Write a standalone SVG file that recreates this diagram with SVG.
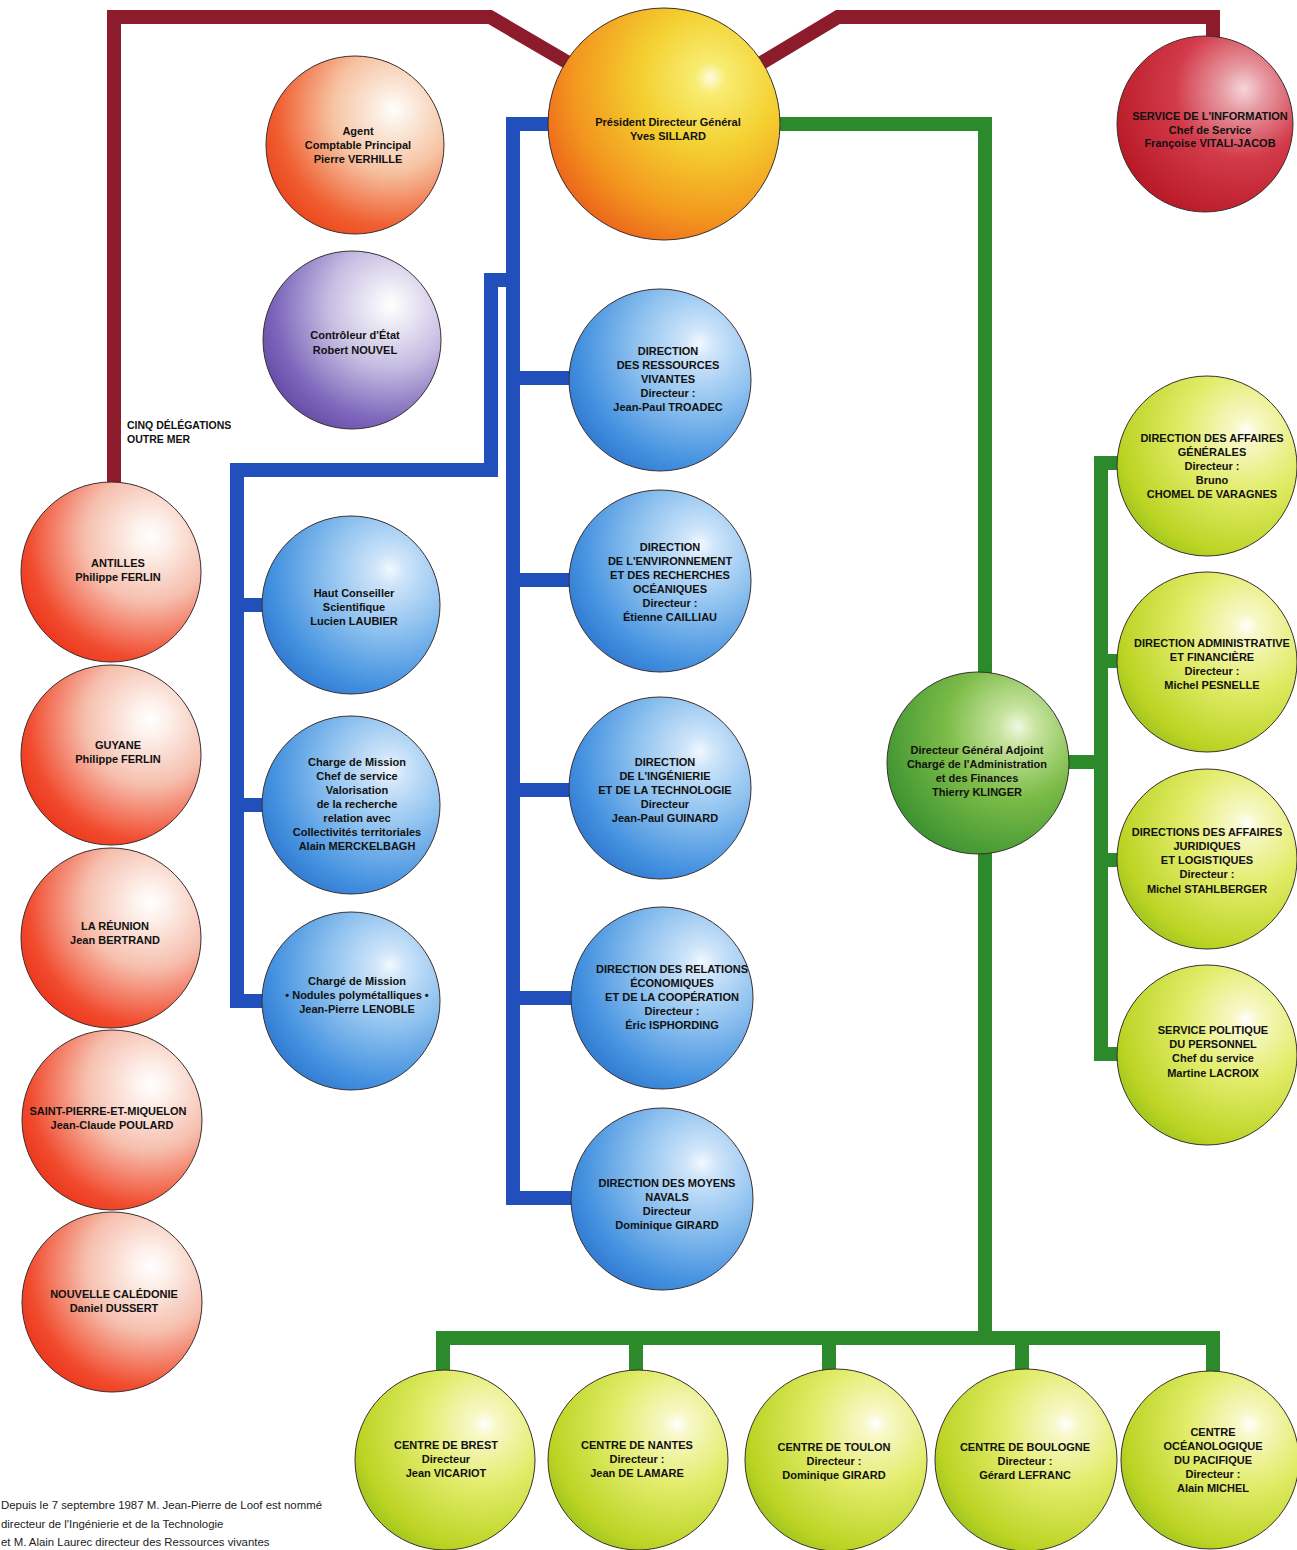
<svg xmlns="http://www.w3.org/2000/svg" width="1297" height="1550" viewBox="0 0 1297 1550">
<defs>
<radialGradient id="gPres" cx="0.7" cy="0.32" r="0.85" fx="0.7" fy="0.3">
<stop offset="0" stop-color="#fffbe0"/><stop offset="0.08" stop-color="#f8ec70"/><stop offset="0.35" stop-color="#f4d030"/><stop offset="0.7" stop-color="#f3961e"/><stop offset="1" stop-color="#e9501a"/>
</radialGradient>
<radialGradient id="gOrange" cx="0.7" cy="0.32" r="0.85" fx="0.72" fy="0.3">
<stop offset="0" stop-color="#ffffff"/><stop offset="0.1" stop-color="#fcefe4"/><stop offset="0.4" stop-color="#f6c3a2"/><stop offset="0.75" stop-color="#f06032"/><stop offset="1" stop-color="#e83a12"/>
</radialGradient>
<radialGradient id="gPurple" cx="0.7" cy="0.32" r="0.85" fx="0.72" fy="0.3">
<stop offset="0" stop-color="#ffffff"/><stop offset="0.1" stop-color="#f2f0f8"/><stop offset="0.4" stop-color="#c6bee2"/><stop offset="0.75" stop-color="#7d66bb"/><stop offset="1" stop-color="#5a3e9c"/>
</radialGradient>
<radialGradient id="gDark" cx="0.7" cy="0.32" r="0.85" fx="0.72" fy="0.3">
<stop offset="0" stop-color="#f6d6da"/><stop offset="0.15" stop-color="#e69aa2"/><stop offset="0.45" stop-color="#d33b4a"/><stop offset="1" stop-color="#b3121f"/>
</radialGradient>
<radialGradient id="gRed" cx="0.7" cy="0.32" r="0.85" fx="0.72" fy="0.3">
<stop offset="0" stop-color="#ffffff"/><stop offset="0.12" stop-color="#fdf0ea"/><stop offset="0.42" stop-color="#f6bfae"/><stop offset="0.78" stop-color="#f14b2e"/><stop offset="1" stop-color="#e92a12"/>
</radialGradient>
<radialGradient id="gBlue" cx="0.7" cy="0.32" r="0.85" fx="0.72" fy="0.3">
<stop offset="0" stop-color="#f2f8ff"/><stop offset="0.1" stop-color="#cfe5fa"/><stop offset="0.4" stop-color="#8fc2ef"/><stop offset="0.75" stop-color="#4592e0"/><stop offset="1" stop-color="#266ec9"/>
</radialGradient>
<radialGradient id="gGreen" cx="0.7" cy="0.32" r="0.85" fx="0.72" fy="0.3">
<stop offset="0" stop-color="#f0f8e0"/><stop offset="0.12" stop-color="#c8e4a0"/><stop offset="0.45" stop-color="#7cbc48"/><stop offset="1" stop-color="#2f8a2c"/>
</radialGradient>
<radialGradient id="gLime" cx="0.7" cy="0.32" r="0.85" fx="0.72" fy="0.3">
<stop offset="0" stop-color="#ffffff"/><stop offset="0.08" stop-color="#f8f8c8"/><stop offset="0.4" stop-color="#e2ec6a"/><stop offset="0.8" stop-color="#bcd424"/><stop offset="1" stop-color="#8cba1c"/>
</radialGradient>
<style>
.n circle{stroke:#3a2e2e;stroke-width:1}
.n text{font-family:"Liberation Sans",Arial,sans-serif;font-weight:bold;font-size:11px;text-anchor:middle;fill:#111}
.c path{fill:none;stroke-width:14;stroke-linejoin:miter}
.red{stroke:#8c1c2c}
.blue{stroke:#2150bd}
.green{stroke:#2c8a2c}
.lbl{font-family:"Liberation Sans",Arial,sans-serif;font-weight:bold;font-size:10.5px;fill:#111}
.note{font-family:"Liberation Sans",Arial,sans-serif;font-size:11.4px;fill:#222}
</style>
</defs>
<rect width="1297" height="1550" fill="#ffffff"/>

<g id="connectors" class="c">
<path class="red" d="M114 485 L114 17 L490 17 L572 65"/>
<path class="red" d="M758 65 L838 17 L1213 17 L1213 42"/>
<path class="blue" d="M552 124 L513 124 L513 1198 L578 1198"/>
<path class="blue" d="M513 378 H578 M513 580 H578 M513 790 H578 M513 998 H578"/>
<path class="blue" d="M513 280 L491 280 L491 470 L237 470 L237 1001 L268 1001"/>
<path class="blue" d="M237 605 H268 M237 805 H268"/>
<path class="green" d="M776 124 L985 124 L985 680"/>
<path class="green" d="M985 845 L985 1338"/>
<path class="green" d="M443 1372 L443 1338 L1213 1338 L1213 1372"/>
<path class="green" d="M636 1338 V1372 M829 1338 V1372 M1022 1338 V1372"/>
<path class="green" d="M1062 762 L1101 762"/>
<path class="green" d="M1124 463 L1101 463 L1101 1054 L1124 1054"/>
<path class="green" d="M1101 661 H1124 M1101 860 H1124"/>
</g>

<text class="lbl" x="127" y="429">CINQ DÉLÉGATIONS</text>
<text class="lbl" x="127" y="443">OUTRE MER</text>

<g id="president" class="n">
<circle cx="664" cy="124" r="116" fill="url(#gPres)"/>
<text x="668" y="126">Président Directeur Général</text>
<text x="668" y="140">Yves SILLARD</text>
</g>

<g id="agent" class="n">
<circle cx="355" cy="145" r="89" fill="url(#gOrange)"/>
<text x="358" y="135">Agent</text>
<text x="358" y="149">Comptable Principal</text>
<text x="358" y="163">Pierre VERHILLE</text>
</g>

<g id="controleur" class="n">
<circle cx="352" cy="340" r="89" fill="url(#gPurple)"/>
<text x="355" y="339">Contrôleur d'État</text>
<text x="355" y="354">Robert NOUVEL</text>
</g>

<g id="information" class="n">
<circle cx="1205" cy="124" r="88" fill="url(#gDark)"/>
<text x="1210" y="120">SERVICE DE L'INFORMATION</text>
<text x="1210" y="134">Chef de Service</text>
<text x="1210" y="147">Françoise VITALI-JACOB</text>
</g>

<g id="antilles" class="n">
<circle cx="111" cy="572" r="90" fill="url(#gRed)"/>
<text x="118" y="567">ANTILLES</text>
<text x="118" y="581">Philippe FERLIN</text>
</g>
<g id="guyane" class="n">
<circle cx="111" cy="755" r="90" fill="url(#gRed)"/>
<text x="118" y="749">GUYANE</text>
<text x="118" y="763">Philippe FERLIN</text>
</g>
<g id="reunion" class="n">
<circle cx="111" cy="938" r="90" fill="url(#gRed)"/>
<text x="115" y="930">LA RÉUNION</text>
<text x="115" y="944">Jean BERTRAND</text>
</g>
<g id="saint-pierre" class="n">
<circle cx="112" cy="1120" r="90" fill="url(#gRed)"/>
<text x="108" y="1115">SAINT-PIERRE-ET-MIQUELON</text>
<text x="112" y="1129">Jean-Claude POULARD</text>
</g>
<g id="caledonie" class="n">
<circle cx="112" cy="1302" r="90" fill="url(#gRed)"/>
<text x="114" y="1298">NOUVELLE CALÉDONIE</text>
<text x="114" y="1312">Daniel DUSSERT</text>
</g>

<g id="conseiller" class="n">
<circle cx="351" cy="605" r="89" fill="url(#gBlue)"/>
<text x="354" y="597">Haut Conseiller</text>
<text x="354" y="611">Scientifique</text>
<text x="354" y="625">Lucien LAUBIER</text>
</g>
<g id="valorisation" class="n">
<circle cx="351" cy="805" r="89" fill="url(#gBlue)"/>
<text x="357" y="766">Charge de Mission</text>
<text x="357" y="780">Chef de service</text>
<text x="357" y="794">Valorisation</text>
<text x="357" y="808">de la recherche</text>
<text x="357" y="822">relation avec</text>
<text x="357" y="836">Collectivités territoriales</text>
<text x="357" y="850">Alain MERCKELBAGH</text>
</g>
<g id="nodules" class="n">
<circle cx="351" cy="1001" r="89" fill="url(#gBlue)"/>
<text x="357" y="985">Chargé de Mission</text>
<text x="357" y="999">• Nodules polymétalliques •</text>
<text x="357" y="1013">Jean-Pierre LENOBLE</text>
</g>

<g id="ressources" class="n">
<circle cx="660" cy="380" r="91" fill="url(#gBlue)"/>
<text x="668" y="355">DIRECTION</text>
<text x="668" y="369">DES RESSOURCES</text>
<text x="668" y="383">VIVANTES</text>
<text x="668" y="397">Directeur :</text>
<text x="668" y="411">Jean-Paul TROADEC</text>
</g>
<g id="environnement" class="n">
<circle cx="660" cy="581" r="91" fill="url(#gBlue)"/>
<text x="670" y="551">DIRECTION</text>
<text x="670" y="565">DE L'ENVIRONNEMENT</text>
<text x="670" y="579">ET DES RECHERCHES</text>
<text x="670" y="593">OCÉANIQUES</text>
<text x="670" y="607">Directeur :</text>
<text x="670" y="621">Étienne CAILLIAU</text>
</g>
<g id="ingenierie" class="n">
<circle cx="660" cy="788" r="91" fill="url(#gBlue)"/>
<text x="665" y="766">DIRECTION</text>
<text x="665" y="780">DE L'INGÉNIERIE</text>
<text x="665" y="794">ET DE LA TECHNOLOGIE</text>
<text x="665" y="808">Directeur</text>
<text x="665" y="822">Jean-Paul GUINARD</text>
</g>
<g id="relations" class="n">
<circle cx="662" cy="998" r="91" fill="url(#gBlue)"/>
<text x="672" y="973">DIRECTION DES RELATIONS</text>
<text x="672" y="987">ÉCONOMIQUES</text>
<text x="672" y="1001">ET DE LA COOPÉRATION</text>
<text x="672" y="1015">Directeur :</text>
<text x="672" y="1029">Éric ISPHORDING</text>
</g>
<g id="navals" class="n">
<circle cx="662" cy="1199" r="91" fill="url(#gBlue)"/>
<text x="667" y="1187">DIRECTION DES MOYENS</text>
<text x="667" y="1201">NAVALS</text>
<text x="667" y="1215">Directeur</text>
<text x="667" y="1229">Dominique GIRARD</text>
</g>

<g id="dga" class="n">
<circle cx="978" cy="763" r="91" fill="url(#gGreen)"/>
<text x="977" y="754">Directeur Général Adjoint</text>
<text x="977" y="768">Chargé de l'Administration</text>
<text x="977" y="782">et des Finances</text>
<text x="977" y="796">Thierry KLINGER</text>
</g>

<g id="affaires-generales" class="n">
<circle cx="1207" cy="466" r="90" fill="url(#gLime)"/>
<text x="1212" y="442">DIRECTION DES AFFAIRES</text>
<text x="1212" y="456">GÉNÉRALES</text>
<text x="1212" y="470">Directeur :</text>
<text x="1212" y="484">Bruno</text>
<text x="1212" y="498">CHOMEL DE VARAGNES</text>
</g>
<g id="administrative" class="n">
<circle cx="1207" cy="662" r="90" fill="url(#gLime)"/>
<text x="1212" y="647">DIRECTION ADMINISTRATIVE</text>
<text x="1212" y="661">ET FINANCIÈRE</text>
<text x="1212" y="675">Directeur :</text>
<text x="1212" y="689">Michel PESNELLE</text>
</g>
<g id="juridiques" class="n">
<circle cx="1207" cy="859" r="90" fill="url(#gLime)"/>
<text x="1207" y="836">DIRECTIONS DES AFFAIRES</text>
<text x="1207" y="850">JURIDIQUES</text>
<text x="1207" y="864">ET LOGISTIQUES</text>
<text x="1207" y="878">Directeur :</text>
<text x="1207" y="893">Michel STAHLBERGER</text>
</g>
<g id="personnel" class="n">
<circle cx="1207" cy="1055" r="90" fill="url(#gLime)"/>
<text x="1213" y="1034">SERVICE POLITIQUE</text>
<text x="1213" y="1048">DU PERSONNEL</text>
<text x="1213" y="1062">Chef du service</text>
<text x="1213" y="1077">Martine LACROIX</text>
</g>

<g id="brest" class="n">
<circle cx="445" cy="1460" r="90" fill="url(#gLime)"/>
<text x="446" y="1449">CENTRE DE BREST</text>
<text x="446" y="1463">Directeur</text>
<text x="446" y="1477">Jean VICARIOT</text>
</g>
<g id="nantes" class="n">
<circle cx="638" cy="1460" r="90" fill="url(#gLime)"/>
<text x="637" y="1449">CENTRE DE NANTES</text>
<text x="637" y="1463">Directeur :</text>
<text x="637" y="1477">Jean DE LAMARE</text>
</g>
<g id="toulon" class="n">
<circle cx="836" cy="1460" r="91" fill="url(#gLime)"/>
<text x="834" y="1451">CENTRE DE TOULON</text>
<text x="834" y="1465">Directeur :</text>
<text x="834" y="1479">Dominique GIRARD</text>
</g>
<g id="boulogne" class="n">
<circle cx="1026" cy="1460" r="91" fill="url(#gLime)"/>
<text x="1025" y="1451">CENTRE DE BOULOGNE</text>
<text x="1025" y="1465">Directeur :</text>
<text x="1025" y="1479">Gérard LEFRANC</text>
</g>
<g id="pacifique" class="n">
<circle cx="1210" cy="1460" r="89" fill="url(#gLime)"/>
<text x="1213" y="1436">CENTRE</text>
<text x="1213" y="1450">OCÉANOLOGIQUE</text>
<text x="1213" y="1464">DU PACIFIQUE</text>
<text x="1213" y="1478">Directeur :</text>
<text x="1213" y="1492">Alain MICHEL</text>
</g>

<text class="note" x="1" y="1509">Depuis le 7 septembre 1987 M. Jean-Pierre de Loof est nommé</text>
<text class="note" x="1" y="1528">directeur de l'Ingénierie et de la Technologie</text>
<text class="note" x="1" y="1546">et M. Alain Laurec directeur des Ressources vivantes</text>
</svg>
